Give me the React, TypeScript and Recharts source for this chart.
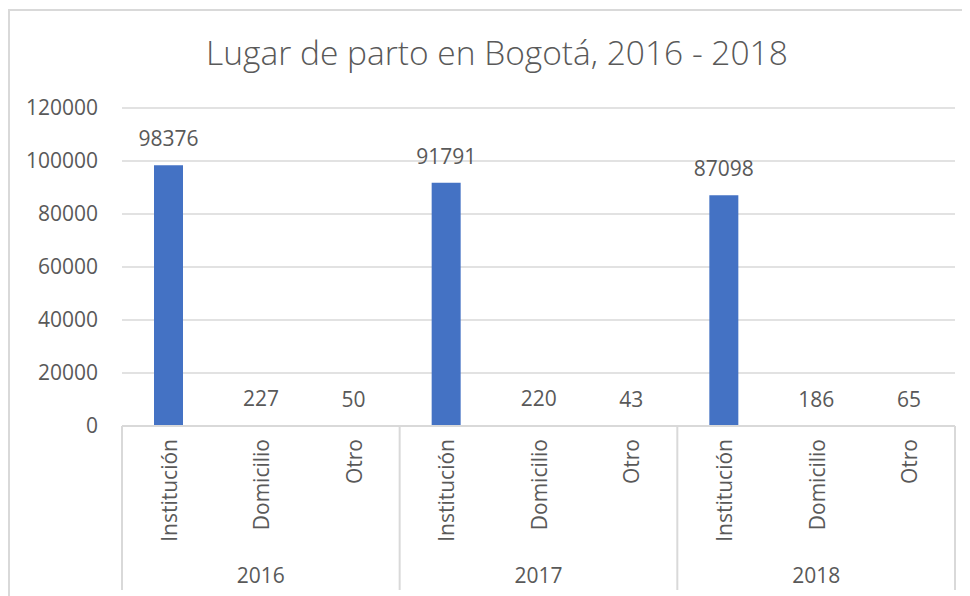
import React from 'react';
import { BarChart, Bar, XAxis, YAxis, CartesianGrid, LabelList } from 'recharts';

const places = ['Institución', 'Domicilio', 'Otro'];
const years = ['2016', '2017', '2018'];
const values2016 = [98376, 227, 50];
const values2017 = [91791, 220, 43];
const values2018 = [87098, 186, 65];
const yTicks = [0, 20000, 40000, 60000, 80000, 100000, 120000];

const byYear = [values2016, values2017, values2018];
const data = years.flatMap((year, yi) =>
  places.map((place, pi) => ({ place, year, value: byYear[yi][pi] }))
);

const FONT = '"Open Sans", sans-serif';
const TEXT = '#595959';
const GRID = '#d9d9d9';
const FS = 21;

const CHART_W = 960;
const CHART_H = 585;
const MARGIN = { top: 97, right: 15, left: 0, bottom: 0 };
const Y_W = 112;
const PLOT_W = CHART_W - MARGIN.left - MARGIN.right - Y_W;

const CategoryTick = (props: any) => {
  const { x, y, index, payload } = props;
  const count = props.visibleTicksCount || data.length;
  const band = (typeof props.width === 'number' ? props.width : PLOT_W) / count;
  const row = data[index];
  const isFirst = index % places.length === 0;
  const isMid = index % places.length === 1;
  const isLast = index === data.length - 1;
  return (
    <g>
      <text
        transform={`translate(${x + 1},${y + 13}) rotate(-90)`}
        textAnchor="end"
        dy="0.35em"
        fill={TEXT}
        fontSize={FS}
        fontFamily={FONT}
      >
        {payload.value}
      </text>
      {isFirst && (
        <line x1={x - band / 2} x2={x - band / 2} y1={y} y2={y + 164} stroke={GRID} strokeWidth={2} />
      )}
      {isLast && (
        <line x1={x + band / 2} x2={x + band / 2} y1={y} y2={y + 164} stroke={GRID} strokeWidth={2} />
      )}
      {isMid && (
        <text x={x} y={y + 150} dy="0.35em" textAnchor="middle" fill={TEXT} fontSize={FS} fontFamily={FONT}>
          {row.year}
        </text>
      )}
    </g>
  );
};

export default function App() {
  return (
    <div
      style={{
        position: 'relative',
        width: 1000,
        height: 600,
        marginTop: 1,
        borderTop: `2px solid ${GRID}`,
        borderLeft: `2px solid ${GRID}`,
        boxSizing: 'border-box',
        background: '#fff',
      }}
    >
      <div
        style={{
          position: 'absolute',
          left: 0,
          top: 21,
          width: 974,
          textAlign: 'center',
          fontFamily: FONT,
          fontSize: 33.5,
          fontWeight: 300,
          color: TEXT,
          lineHeight: '40px',
        }}
      >
        Lugar de parto en Bogotá, 2016 - 2018
      </div>
      <BarChart width={CHART_W} height={CHART_H} data={data} margin={MARGIN}>
        <CartesianGrid vertical={false} stroke={GRID} strokeWidth={1.5} />
        <YAxis
          width={Y_W}
          domain={[0, 120000]}
          ticks={yTicks}
          axisLine={false}
          tickLine={false}
          tickSize={0}
          tickMargin={24}
          tick={{ fill: TEXT, fontSize: FS, fontFamily: FONT }}
        />
        <XAxis
          dataKey="place"
          interval={0}
          height={170}
          axisLine={{ stroke: GRID, strokeWidth: 2 }}
          tickLine={false}
          tickSize={0}
          tickMargin={0}
          tick={<CategoryTick />}
        />
        <Bar dataKey="value" fill="#4472C4" barSize={29} isAnimationActive={false}>
          <LabelList
            dataKey="value"
            position="top"
            offset={19}
            fill={TEXT}
            fontSize={FS}
            fontFamily={FONT}
          />
        </Bar>
      </BarChart>
    </div>
  );
}
